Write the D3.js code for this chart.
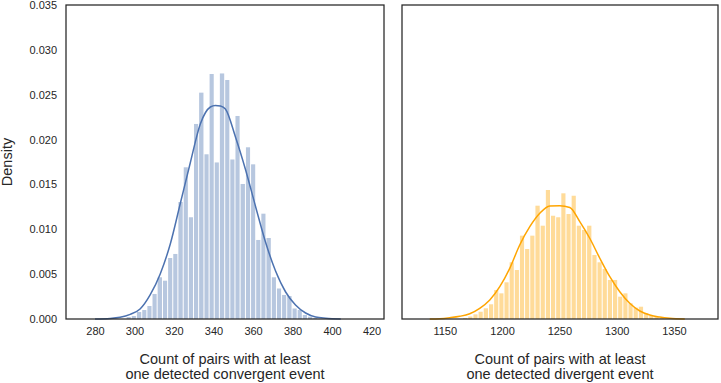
<!DOCTYPE html>
<html>
<head>
<meta charset="utf-8">
<script src="https://cdn.jsdelivr.net/npm/d3@7"></script>
<style>
  html, body { margin: 0; padding: 0; background: #ffffff; }
  svg { display: block; }
  text { font-family: "Liberation Sans", Arial, "DejaVu Sans", sans-serif; fill: #262626; }
</style>
</head>
<body>
<svg id="chart" width="721" height="383"></svg>
<script>
// ---------- DATA ----------
// Left panel: convergent events (histogram bin lower edges, bin density)
const convBinEdges = [296.0, 298.6, 301.2, 303.9, 306.5, 309.1, 311.7, 314.4, 317.0, 319.6,
  322.2, 324.9, 327.5, 330.1, 332.7, 335.4, 338.0, 340.6, 343.2, 345.9,
  348.5, 351.1, 353.7, 356.4, 359.0, 361.6, 364.2, 366.8, 369.5, 372.1,
  374.7, 377.3, 380.0, 382.6, 385.2, 387.8, 390.5, 393.1];
const convDensity = [0.00022, 0.00033, 0.00078, 0.00100, 0.00145, 0.00279, 0.00465, 0.00427, 0.00680, 0.00725,
  0.01304, 0.01691, 0.01134, 0.02174, 0.02523, 0.01836, 0.02731, 0.01745, 0.02737, 0.02664,
  0.01778, 0.02263, 0.01505, 0.01914, 0.01724, 0.00881, 0.01174, 0.00903, 0.00465, 0.00340,
  0.00268, 0.00256, 0.00117, 0.00100, 0.00045, 0.00026, 0.00011];
// KDE curve (x value, density)
const convKdeX = [280, 287.6, 292.7, 297.8, 302.8, 307.9, 313.0, 318.1, 323.1, 328.2, 333.3, 338.4,
  340.9, 343.5, 346.0, 351.1, 356.1, 361.2, 366.3, 371.4, 376.5, 381.5, 386.6, 391.7, 396.8, 404.4];
const convKdeY = [0, 0.00006, 0.00019, 0.00052, 0.00111, 0.00268, 0.00502, 0.00836, 0.01282, 0.01739,
  0.02174, 0.02363, 0.02380, 0.02374, 0.02341, 0.02029, 0.01672, 0.01260, 0.00858, 0.00535,
  0.00301, 0.00156, 0.00067, 0.00022, 0.00008, 0];

// Right panel: divergent events
const divBinEdges = [1166.0, 1170.5, 1175.0, 1179.5, 1184.0, 1188.6, 1193.1, 1197.6, 1202.1, 1206.6,
  1211.1, 1215.6, 1220.1, 1224.6, 1229.1, 1233.7, 1238.2, 1242.7, 1247.2, 1251.7,
  1256.2, 1260.7, 1265.2, 1269.7, 1274.2, 1278.8, 1283.3, 1287.8, 1292.3, 1296.8,
  1301.3, 1305.8, 1310.3, 1314.8, 1319.3, 1323.9, 1328.4, 1332.9, 1337.4, 1341.9];
const divDensity = [0.00011, 0.00028, 0.00052, 0.00081, 0.00119, 0.00164, 0.00323, 0.00286, 0.00409, 0.00632,
  0.00546, 0.00929, 0.00780, 0.00929, 0.01263, 0.01040, 0.01438, 0.01151, 0.01134, 0.01401,
  0.01170, 0.01374, 0.01040, 0.00992, 0.01040, 0.00713, 0.00632, 0.00557, 0.00435, 0.00435,
  0.00249, 0.00286, 0.00175, 0.00126, 0.00137, 0.00064, 0.00037, 0.00026, 0.00011];
const divKdeX = [1136.9, 1145.6, 1154.4, 1163.1, 1171.8, 1180.5, 1189.3, 1198.0, 1206.7, 1215.4,
  1224.2, 1232.9, 1241.6, 1250.3, 1259.1, 1267.8, 1276.5, 1285.3, 1294.0, 1302.7,
  1311.4, 1320.2, 1328.9, 1337.6, 1346.3, 1359.4];
const divKdeY = [0, 0.00003, 0.00014, 0.00030, 0.00059, 0.00119, 0.00212, 0.00360, 0.00565, 0.00825,
  0.01029, 0.01178, 0.01260, 0.01263, 0.01243, 0.01085, 0.00900, 0.00677, 0.00472, 0.00304,
  0.00175, 0.00089, 0.00045, 0.00022, 0.00008, 0];

// Axis ticks and labels
const yTicks = [0, 0.005, 0.010, 0.015, 0.020, 0.025, 0.030, 0.035];
const convTicks = [280, 300, 320, 340, 360, 380, 400, 420];
const divTicks = [1150, 1200, 1250, 1300, 1350];
const convDomain = [265.3, 426.3];
const divDomain = [1112.7, 1388.4];
const yDomain = [0, 0.035];
const yLabel = "Density";
const convLabel = ["Count of pairs with at least", "one detected convergent event"];
const divLabel = ["Count of pairs with at least", "one detected divergent event"];

// ---------- DRAW ----------
const svg = d3.select("#chart");
const plotTop = 5, plotBottom = 319;
const y = d3.scaleLinear().domain(yDomain).range([plotBottom, plotTop]);

function panel(opts) {
  const x = d3.scaleLinear().domain(opts.domain).range([opts.x0, opts.x1]);
  const g = svg.append("g");

  // bars
  const bins = opts.density.map((d, i) => ({ x0: opts.edges[i], x1: opts.edges[i + 1], d }));
  g.append("g").selectAll("rect").data(bins).join("rect")
    .attr("x", b => x(b.x0))
    .attr("width", b => Math.max(0, x(b.x1) - x(b.x0) - 1))
    .attr("y", b => y(b.d))
    .attr("height", b => y(0) - y(b.d))
    .attr("fill", opts.barColor);

  // kde
  const pts = opts.kx.map((v, i) => [v, opts.ky[i]]);
  g.append("path")
    .datum(pts)
    .attr("d", d3.line().x(p => x(p[0])).y(p => y(p[1])).curve(d3.curveMonotoneX))
    .attr("fill", "none")
    .attr("stroke", opts.lineColor)
    .attr("stroke-width", 1.5);

  // x axis tick labels (no tick marks)
  const xAxis = d3.axisBottom(x).tickValues(opts.ticks).tickSize(0).tickPadding(8).tickFormat(d3.format("d"));
  const ax = g.append("g").attr("transform", `translate(0,${plotBottom})`).call(xAxis);
  ax.select(".domain").remove();
  ax.selectAll("text").style("font-size", "11px").attr("fill", "#262626")
    .style("font-family", '"Liberation Sans", Arial, sans-serif');

  // frame
  g.append("rect")
    .attr("x", opts.x0).attr("y", plotTop)
    .attr("width", opts.x1 - opts.x0).attr("height", plotBottom - plotTop)
    .attr("fill", "none").attr("stroke", "#262626").attr("stroke-width", 1.25);

  // x label
  const cx = (opts.x0 + opts.x1) / 2;
  const t = g.append("text").attr("text-anchor", "middle").style("font-size", "14.5px");
  t.selectAll("tspan").data(opts.label).join("tspan")
    .attr("x", cx)
    .attr("y", (d, i) => 364 + i * 15)
    .text(d => d);
  return x;
}

panel({ x0: 66, x1: 384, domain: convDomain, edges: convBinEdges, density: convDensity,
  kx: convKdeX, ky: convKdeY, ticks: convTicks, label: convLabel,
  barColor: "rgb(183,199,223)", lineColor: "#4c72b0" });
panel({ x0: 402, x1: 718, domain: divDomain, edges: divBinEdges, density: divDensity,
  kx: divKdeX, ky: divKdeY, ticks: divTicks, label: divLabel,
  barColor: "rgb(255,219,153)", lineColor: "#ffa500" });

// y axis
const yAxis = d3.axisLeft(y).tickValues(yTicks).tickSize(0).tickPadding(9).tickFormat(d3.format(".3f"));
const ay = svg.append("g").attr("transform", "translate(66,0)").call(yAxis);
ay.select(".domain").remove();
ay.selectAll("text").style("font-size", "11px").attr("fill", "#262626")
  .style("font-family", '"Liberation Sans", Arial, sans-serif');

svg.append("text")
  .attr("transform", `translate(12,${(plotTop + plotBottom) / 2}) rotate(-90)`)
  .attr("text-anchor", "middle")
  .style("font-size", "14.5px")
  .text(yLabel);
</script>
</body>
</html>
